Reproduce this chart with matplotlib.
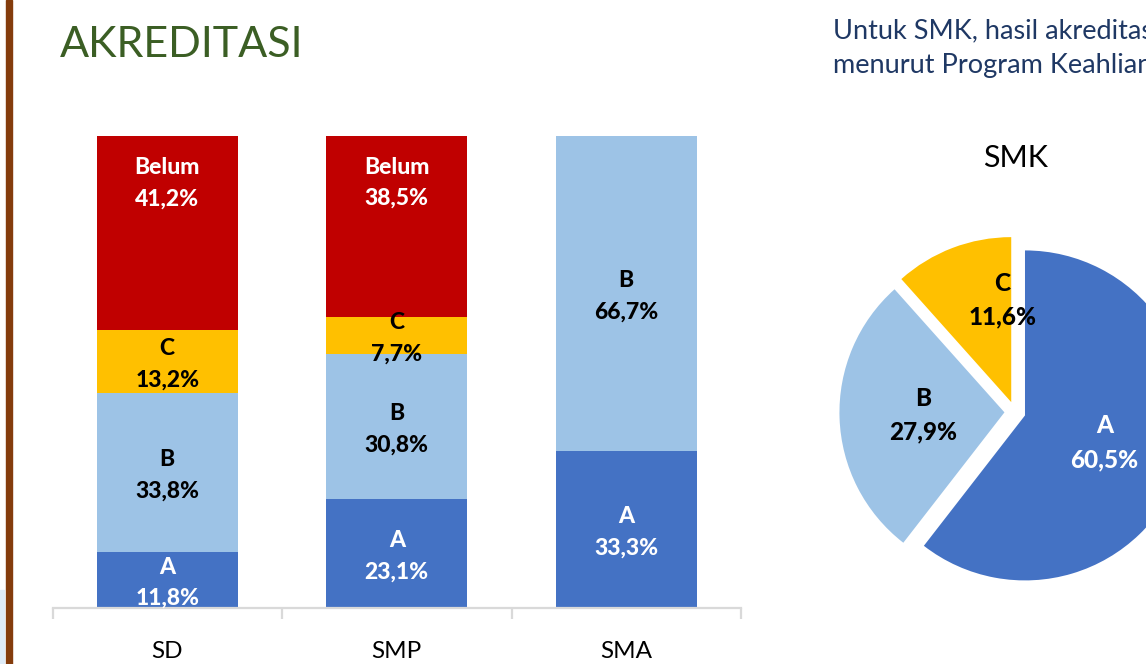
import matplotlib
matplotlib.use("Agg")
import matplotlib.pyplot as plt
from matplotlib.patches import Rectangle
import numpy as np

# ---- data ----
categories = ["SD", "SMP", "SMA"]
series_names = ["A", "B", "C", "Belum"]
val_A = [11.8, 23.1, 33.3]
val_B = [33.8, 30.8, 66.7]
val_C = [13.2, 7.7, 0.0]
val_Belum = [41.2, 38.5, 0.0]
label_A = ["11,8%", "23,1%", "33,3%"]
label_B = ["33,8%", "30,8%", "66,7%"]
label_C = ["13,2%", "7,7%", ""]
label_Belum = ["41,2%", "38,5%", ""]

pie_labels = ["A", "B", "C"]
pie_values = [60.5, 27.9, 11.6]
pie_value_labels = ["60,5%", "27,9%", "11,6%"]

colors = {"A": "#4472C4", "B": "#9DC3E6", "C": "#FFC000", "Belum": "#C00000"}
text_colors = {"A": "white", "B": "black", "C": "black", "Belum": "white"}

FONT = "Lato"
plt.rcParams["font.family"] = [FONT, "DejaVu Sans"]

W, H = 1146, 664
fig = plt.figure(figsize=(W / 100, H / 100), dpi=100)
fig.patch.set_facecolor("white")

def fx(px):
    return px / W

def fy(py):
    return 1 - py / H

# decorative left strips
fig.patches.append(Rectangle((fx(6), 0), fx(6), 1, transform=fig.transFigure,
                             color="#843C0C", zorder=0))
fig.patches.append(Rectangle((0, 0), fx(4), (H - 590) / H, transform=fig.transFigure,
                             color="#DEEBF7", zorder=0))

# titles
fig.text(fx(60), fy(57), "AKREDITASI", fontsize=31, color="#3B5E24",
         ha="left", va="baseline", fontweight="normal")
fig.text(fx(833), fy(38), "Untuk SMK, hasil akreditasi", fontsize=19.5,
         color="#1F3864", ha="left", va="baseline")
fig.text(fx(833), fy(73), "menurut Program Keahlian", fontsize=19.5,
         color="#1F3864", ha="left", va="baseline")

# ---- stacked bar chart ----
ax = fig.add_axes([fx(52.5), fy(608), fx(741) - fx(52.5), (608 - 136) / H])
x = np.arange(len(categories))
bw = 0.614
series = [("A", val_A, label_A), ("B", val_B, label_B),
          ("C", val_C, label_C), ("Belum", val_Belum, label_Belum)]
bottom = np.zeros(len(categories))
for name, vals, labs in series:
    vals = np.array(vals)
    ax.bar(x, vals, bw, bottom=bottom, color=colors[name], zorder=2)
    for i, (v, lab) in enumerate(zip(vals, labs)):
        if v <= 0:
            continue
        if name == "Belum":
            yc = bottom[i] + v - 10.0
        else:
            yc = bottom[i] + v / 2 - 0.6
        ax.text(x[i], yc, f"{name}\n{lab}", ha="center", va="center",
                fontsize=16.5, fontweight=900, color=text_colors[name],
                linespacing=1.6, zorder=3)
    bottom = bottom + vals

ax.set_xlim(-0.5, len(categories) - 0.5)
ax.set_ylim(0, 100)
for s in ["top", "left", "right"]:
    ax.spines[s].set_visible(False)
ax.spines["bottom"].set_color("#D9D9D9")
ax.spines["bottom"].set_linewidth(1.6)
ax.set_yticks([])
ax.set_xticks(x)
ax.set_xticklabels(categories, fontsize=17.5)
ax.tick_params(axis="x", which="major", length=0, pad=24)
ax.set_xticks(np.arange(-0.5, len(categories)), minor=True)
ax.tick_params(axis="x", which="minor", length=8, width=1.6, color="#D9D9D9",
               direction="out")
ax.patch.set_alpha(0)

# ---- pie chart ----
R = 165.0
cx, cy = 1015.0, 412.0
lim = 1.3
pax = fig.add_axes([fx(cx - lim * R), fy(cy + lim * R), 2 * lim * R / W, 2 * lim * R / H])
pie_colors = [colors[n] for n in pie_labels]
wedges, _ = pax.pie(pie_values, colors=pie_colors, startangle=90,
                    counterclock=False, explode=[0.064] * 3, radius=1.0,
                    wedgeprops=dict(linewidth=0))
pax.set_xlim(-lim, lim)
pax.set_ylim(-lim, lim)
pax.set_aspect("equal")
pax.axis("off")
label_dist = [0.51, 0.495, 0.62]
label_shift = [0.0, 0.0, -16.0]
for w, n, lab, d, sh in zip(wedges, pie_labels, pie_value_labels, label_dist, label_shift):
    ang = np.deg2rad((w.theta1 + w.theta2) / 2 + sh)
    c = w.center
    tx = c[0] + d * np.cos(ang)
    ty = c[1] + d * np.sin(ang)
    pax.text(tx, ty, f"{n}\n{lab}", ha="center", va="center", fontsize=17.5,
             fontweight=900, color=text_colors[n], linespacing=1.55)

fig.text(fx(1016), fy(158), "SMK", fontsize=22, color="black",
         ha="center", va="center")

fig.savefig("out.png", dpi=100)
